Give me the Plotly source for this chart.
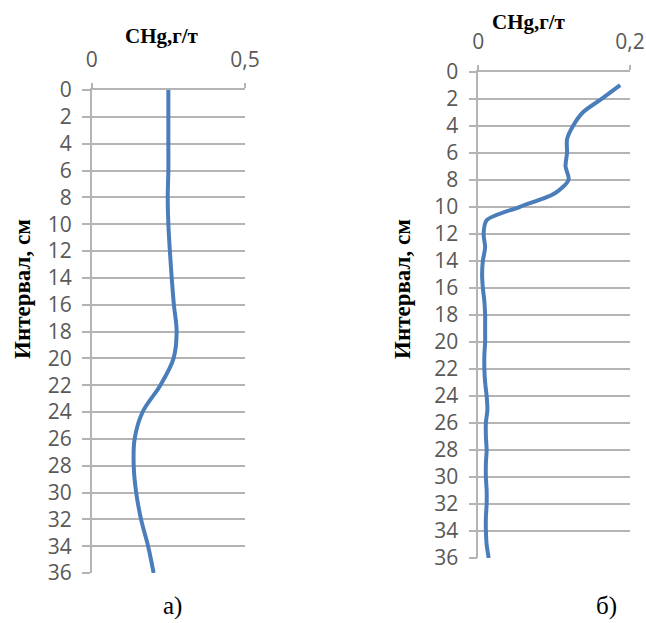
import plotly.graph_objects as go

# Left chart (а): depth interval, cm and CHg, g/t
depth_a = [0, 2, 4, 6, 8, 10, 12, 14, 16, 18, 20, 22, 24, 26, 28, 30, 32, 34, 36]
chg_a = [0.250, 0.250, 0.250, 0.250, 0.248, 0.250, 0.255, 0.261, 0.268, 0.277, 0.267,
         0.224, 0.166, 0.140, 0.137, 0.145, 0.161, 0.184, 0.202]

# Right chart (б)
depth_b = list(range(1, 37))
chg_b = [0.187, 0.163, 0.138, 0.125, 0.117, 0.117, 0.115, 0.119, 0.101, 0.055,
         0.011, 0.007, 0.009, 0.006, 0.005, 0.006, 0.008, 0.009, 0.009, 0.009,
         0.008, 0.008, 0.009, 0.011, 0.012, 0.010, 0.010, 0.011, 0.010, 0.010,
         0.011, 0.011, 0.010, 0.010, 0.011, 0.0137]

ytick_vals = list(range(0, 37, 2))
xtick_a = [0, 0.5]
xtick_a_text = ["0", "0,5"]
xtick_b = [0, 0.2]
xtick_b_text = ["0", "0,2"]

x_title = "CHg,г/т"
y_title = "Интервал, см"
labels = ["а)", "б)"]

W, H = 646, 623
GRID = "#b4b4b4"
TICKFONT = dict(family="Open Sans", size=21, color="#595959")
LINE = "#4A7EBB"

fig = go.Figure()
fig.add_trace(go.Scatter(x=chg_a, y=depth_a, mode="lines",
                         line=dict(color=LINE, width=4, shape="spline", smoothing=1.0),
                         xaxis="x", yaxis="y", showlegend=False, hoverinfo="skip"))
fig.add_trace(go.Scatter(x=chg_b, y=depth_b, mode="lines",
                         line=dict(color=LINE, width=4, shape="spline", smoothing=0.8),
                         xaxis="x2", yaxis="y2", showlegend=False, hoverinfo="skip"))

def xax(dom, rng, tv, tt):
    return dict(domain=dom, range=rng, side="top", tickvals=tv, ticktext=tt,
                showline=True, linecolor=GRID, linewidth=1.5, ticks="outside",
                ticklen=5, tickcolor=GRID, tickwidth=1.5, showgrid=False,
                zeroline=False, tickfont=TICKFONT, ticklabelstandoff=8,
                fixedrange=True)

def yax(dom, anchor):
    return dict(domain=dom, range=[36, 0], tickvals=ytick_vals,
                showline=True, linecolor=GRID, linewidth=1.5, ticks="outside",
                ticklen=8, tickcolor=GRID, tickwidth=1.5, showgrid=True,
                gridcolor=GRID, gridwidth=1.5, zeroline=False, tickfont=TICKFONT,
                ticklabelstandoff=6, anchor=anchor, fixedrange=True)

ax_a = [91.7 / W, 245 / W]
ay_a = [1 - 573 / H, 1 - 90 / H]
ax_b = [478.3 / W, 630 / W]
ay_b = [1 - 558 / H, 1 - 71.7 / H]

fig.update_layout(
    width=W, height=H, margin=dict(l=0, r=0, t=0, b=0, autoexpand=False),
    paper_bgcolor="white", plot_bgcolor="white",
    xaxis=xax(ax_a, [0, 0.5], xtick_a, xtick_a_text) | dict(anchor="y"),
    yaxis=yax(ay_a, "x"),
    xaxis2=xax(ax_b, [0, 0.2], xtick_b, xtick_b_text) | dict(anchor="y2"),
    yaxis2=yax(ay_b, "x2"),
)

TFONT = dict(family="Liberation Serif", size=21, color="#000000")
ann = [
    dict(text="<b>%s</b>" % x_title, x=162 / W, y=1 - 36 / H, font=TFONT),
    dict(text="<b>%s</b>" % x_title, x=529 / W, y=1 - 22 / H, font=TFONT),
    dict(text="<b>%s</b>" % y_title, x=22 / W, y=1 - 289 / H, font=dict(TFONT, size=23), textangle=-90),
    dict(text="<b>%s</b>" % y_title, x=402 / W, y=1 - 289 / H, font=dict(TFONT, size=23), textangle=-90),
    dict(text=labels[0], x=172 / W, y=1 - 606 / H, font=dict(TFONT, size=25)),
    dict(text=labels[1], x=606 / W, y=1 - 606 / H, font=dict(TFONT, size=25)),
]
for a in ann:
    a.update(xref="paper", yref="paper", showarrow=False, xanchor="center", yanchor="middle")
fig.update_layout(annotations=ann)

fig.write_html("out.html", config={"displayModeBar": False},
               post_script="document.body.style.margin='0';document.body.style.overflow='hidden';")
